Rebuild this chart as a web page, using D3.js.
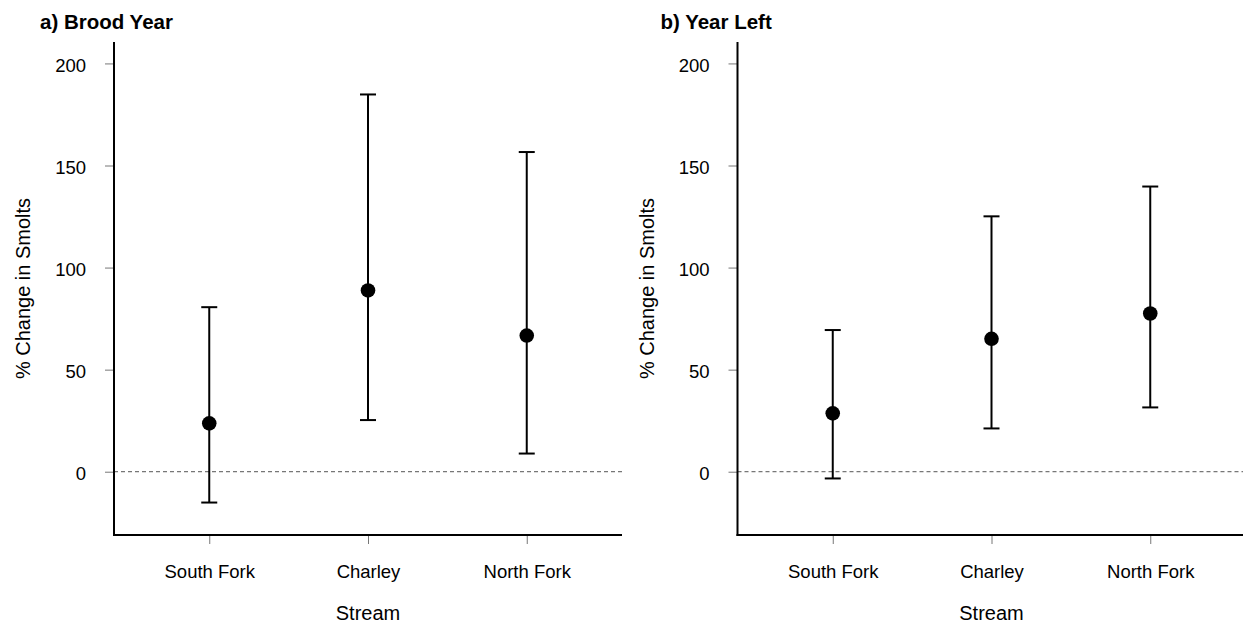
<!DOCTYPE html>
<html>
<head>
<meta charset="utf-8">
<script src="https://cdn.jsdelivr.net/npm/d3@7"></script>
<style>
  html, body { margin: 0; padding: 0; background: #fff; }
  svg { display: block; font-family: "Liberation Sans", Arial, sans-serif; }
</style>
</head>
<body>
<svg id="chart" width="1243" height="623"></svg>
<script>
// Streams on the x axis
const streams = ["South Fork", "Charley", "North Fork"];

// a) Brood Year: estimate and interval bounds (% change in smolts)
const broodMean  = [23.7, 88.8, 66.7];
const broodLower = [-15.1, 25.3, 8.9];
const broodUpper = [80.6, 184.8, 156.6];

// b) Year Left: estimate and interval bounds (% change in smolts)
const leftMean  = [28.6, 65.1, 77.5];
const leftLower = [-3.3, 21.2, 31.5];
const leftUpper = [69.4, 125.1, 139.7];

const yTicks = [0, 50, 100, 150, 200];

const panels = [
  { title: "a) Brood Year", mean: broodMean, lower: broodLower, upper: broodUpper, dx: 0 },
  { title: "b) Year Left",  mean: leftMean,  lower: leftLower,  upper: leftUpper,  dx: 623.5 }
];

const svg = d3.select("#chart");

// Shared panel geometry
const axisLeft = 114, plotW = 508, plotTop = 42, plotBottom = 535;

panels.forEach(p => {
  const g = svg.append("g").attr("transform", `translate(${p.dx},0)`);

  const x = d3.scalePoint().domain(streams).range([axisLeft, axisLeft + plotW]).padding(0.6);
  const y = d3.scaleLinear().domain([-31, 210.5]).range([plotBottom, plotTop]);

  const rows = streams.map((s, i) => ({ s, m: p.mean[i], lo: p.lower[i], hi: p.upper[i] }));

  // reference line at zero
  g.append("line")
    .attr("x1", axisLeft).attr("x2", axisLeft + plotW)
    .attr("y1", y(0)).attr("y2", y(0))
    .attr("stroke", "#555").attr("stroke-width", 1)
    .attr("stroke-dasharray", "4,3");

  // y axis
  const yAxis = g.append("g")
    .attr("transform", `translate(${axisLeft},0)`)
    .call(d3.axisLeft(y).tickValues(yTicks).tickSize(9).tickPadding(19).tickSizeOuter(0));
  yAxis.select(".domain").remove();
  yAxis.selectAll(".tick line").attr("stroke", "#777").attr("stroke-width", 1);
  yAxis.selectAll(".tick text")
    .attr("fill", "#000").attr("font-size", "18.5px")
    .attr("font-family", "'Liberation Sans', Arial, sans-serif")
    .attr("dy", "0.42em");
  g.append("line")
    .attr("x1", axisLeft).attr("x2", axisLeft)
    .attr("y1", plotTop).attr("y2", plotBottom + 1)
    .attr("stroke", "#000").attr("stroke-width", 2);

  // x axis
  const xAxis = g.append("g")
    .attr("transform", `translate(0,${plotBottom})`)
    .call(d3.axisBottom(x).tickSize(9).tickPadding(21).tickSizeOuter(0));
  xAxis.select(".domain").remove();
  xAxis.selectAll(".tick line").attr("stroke", "#777").attr("stroke-width", 1);
  xAxis.selectAll(".tick text")
    .attr("fill", "#000").attr("font-size", "18.5px")
    .attr("font-family", "'Liberation Sans', Arial, sans-serif");
  g.append("line")
    .attr("x1", axisLeft - 1).attr("x2", axisLeft + plotW)
    .attr("y1", plotBottom).attr("y2", plotBottom)
    .attr("stroke", "#000").attr("stroke-width", 2);

  // error bars
  const bars = g.append("g").selectAll("g").data(rows).join("g");
  bars.append("line")
    .attr("x1", d => x(d.s)).attr("x2", d => x(d.s))
    .attr("y1", d => y(d.lo)).attr("y2", d => y(d.hi))
    .attr("stroke", "#000").attr("stroke-width", 2);
  bars.append("line")
    .attr("x1", d => x(d.s) - 8).attr("x2", d => x(d.s) + 8)
    .attr("y1", d => y(d.hi)).attr("y2", d => y(d.hi))
    .attr("stroke", "#000").attr("stroke-width", 2);
  bars.append("line")
    .attr("x1", d => x(d.s) - 8).attr("x2", d => x(d.s) + 8)
    .attr("y1", d => y(d.lo)).attr("y2", d => y(d.lo))
    .attr("stroke", "#000").attr("stroke-width", 2);
  bars.append("circle")
    .attr("cx", d => x(d.s)).attr("cy", d => y(d.m))
    .attr("r", 7.3).attr("fill", "#000");

  // axis titles
  g.append("text")
    .attr("x", x("Charley")).attr("y", 620)
    .attr("text-anchor", "middle").attr("font-size", "20px")
    .text("Stream");
  g.append("text")
    .attr("transform", `translate(30,${(plotTop + plotBottom) / 2}) rotate(-90)`)
    .attr("text-anchor", "middle").attr("font-size", "20px")
    .text("% Change in Smolts");

  // panel title
  g.append("text")
    .attr("x", 40 - (p.dx ? 3 : 0)).attr("y", 29)
    .attr("font-size", "20.5px").attr("font-weight", "bold")
    .text(p.title);
});
</script>
</body>
</html>
